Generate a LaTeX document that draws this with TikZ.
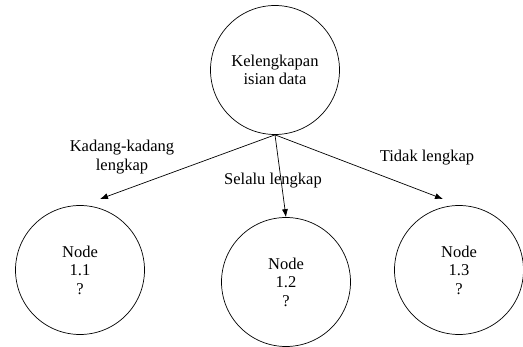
\documentclass[tikz,border=0pt]{standalone}
\usepackage{fontspec}
\setmainfont{Liberation Serif}
\usepackage{tikz}
\usetikzlibrary{arrows.meta}

\tikzset{
	keadaan/.style={draw, circle, minimum size=129pt, inner sep=0pt, align=center, line width=0.7pt},
	label/.style={align=center},
	panah/.style={-{Latex[length=8pt,width=6pt]}, line width=0.7pt}
}

\begin{document}
\begin{tikzpicture}[x=1pt,y=-1pt,font=\fontsize{16.5}{18.5}\selectfont]
	\useasboundingbox (0,0) rectangle (523,347);
	\node [keadaan] (akar) at (275,70) {Kelengkapan\\isian data};
	\node [keadaan] (n11) at (80,270) {Node\\1.1\\?};
	\node [keadaan] (n12) at (286,282) {Node\\1.2\\?};
	\node [keadaan] (n13) at (459,270) {Node\\1.3\\?};
	\coordinate (u11) at (100,199);
	\coordinate (u13) at (443,199);
	\draw [panah] (akar.south) -- (u11);
	\draw [panah] (akar.south) -- (n12.north);
	\draw [panah] (akar.south) -- (u13);
	\node [label] (l11) at (122,157) {Kadang-kadang\\lengkap};
	\node [label] (l12) at (273,181) {Selalu lengkap};
	\node [label] (l13) at (427,158) {Tidak lengkap};
\end{tikzpicture}
\end{document}
